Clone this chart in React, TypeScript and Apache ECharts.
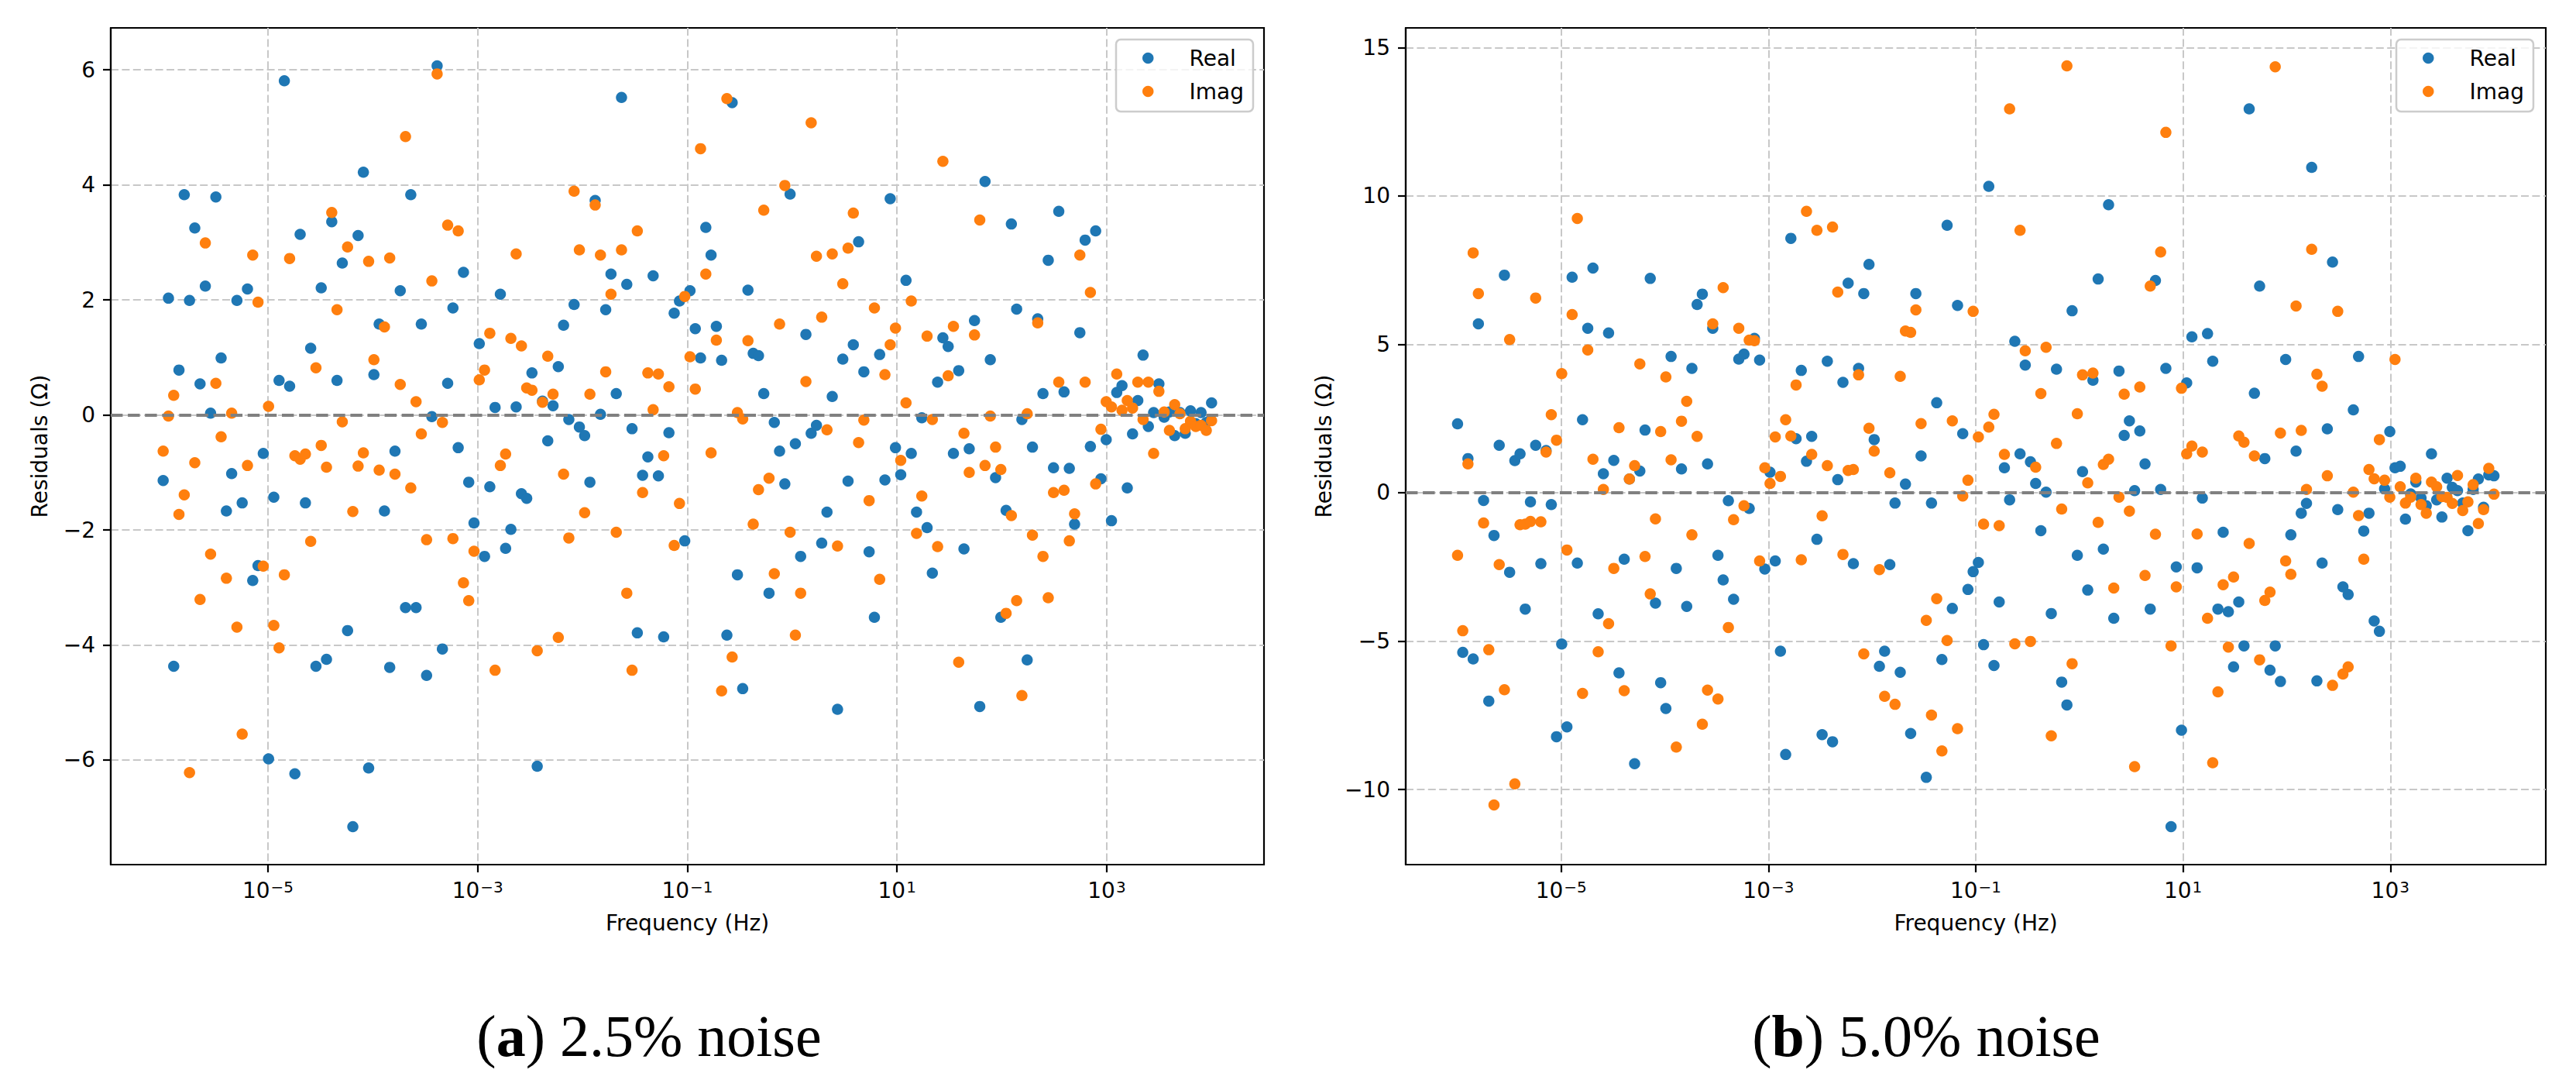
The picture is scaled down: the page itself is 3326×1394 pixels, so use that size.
import React, { useEffect, useRef } from "react";
import * as echarts from "echarts";

// log10 of the frequency grid (200 points, 1e-6 .. 1e4 Hz, log spaced)
const logFrequency = Array.from({ length: 200 }, (_, i) => -6 + (10 * i) / 199);

const xTickExps = [-5, -3, -1, 1, 3];
const yTicksA = [-6, -4, -2, 0, 2, 4, 6];
const yTicksB = [-10, -5, 0, 5, 10, 15];

// (a) 2.5% noise
const realA = [
  -1.14, 2.03, -4.37, 0.78, 3.83, 1.99, 3.25, 0.54, 2.24, 0.03,
  3.79, 0.99, -1.67, -1.02, 1.99, -1.53, 2.19, -2.88, -2.62, -0.67,
  -5.98, -1.43, 0.6, 5.81, 0.5, -6.24, 3.14, -1.53, 1.16, -4.37,
  2.21, -4.25, 3.36, 0.6, 2.64, -3.75, -7.16, 3.12, 4.22, -6.14,
  0.7, 1.58, -1.67, -4.39, -0.63, 2.16, -3.35, 3.83, -3.35, 1.58,
  -4.53, -0.03, 6.07, -4.07, 0.55, 1.86, -0.57, 2.48, -1.17, -1.88,
  1.24, -2.46, -1.25, 0.13, 2.1, -2.32, -1.99, 0.14, -1.37, -1.45,
  0.73, -6.11, 0.24, -0.45, 0.16, 0.84, 1.56, -0.08, 1.92, -0.21,
  -0.36, -1.17, 3.73, 0.01, 1.83, 2.45, 0.37, 5.52, 2.27, -0.24,
  -3.79, -1.05, -0.73, 2.42, -1.06, -3.86, -0.31, 1.77, 1.98, -2.19,
  2.16, 1.5, 0.99, 3.26, 2.78, 1.54, 0.95, -3.83, 5.43, -2.78,
  -4.76, 2.17, 1.07, 1.03, 0.37, -3.1, -0.13, -0.63, -1.2, 3.84,
  -0.5, -2.46, 1.4, -0.32, -0.18, -2.23, -1.69, 0.32, -5.12, 0.97,
  -1.15, 1.22, 3.01, 0.75, -2.38, -3.52, 1.05, -1.13, 3.76, -0.57,
  -1.04, 2.34, -0.67, -1.69, -0.05, -1.96, -2.75, 0.57, 1.34, 1.19,
  -0.67, 0.77, -2.33, -0.59, 1.64, -5.07, 4.06, 0.96, -1.09, -3.52,
  -1.66, 3.32, 1.84, -0.08, -4.26, -0.56, 1.67, 0.37, 2.69, -0.92,
  3.54, 0.4, -0.93, -1.9, 1.43, 3.04, -0.55, 3.2, -1.11, -0.43,
  -1.84, 0.39, 0.51, -1.27, -0.33, 0.25, 1.04, -0.2, 0.04, 0.54,
  -0.04, 0.05, -0.36, 0.04, -0.32, 0.07, -0.15, 0.04, -0.13, 0.21,
];
const imagA = [
  -0.63, -0.02, 0.34, -1.73, -1.39, -6.22, -0.83, -3.21, 2.99, -2.42,
  0.55, -0.38, -2.84, 0.03, -3.69, -5.55, -0.88, 2.78, 1.96, -2.63,
  0.15, -3.66, -4.05, -2.78, 2.72, -0.71, -0.77, -0.68, -2.2, 0.82,
  -0.53, -0.91, 3.52, 1.83, -0.12, 2.92, -1.68, -0.89, -0.66, 2.67,
  0.96, -0.96, 1.53, 2.73, -1.03, 0.53, 4.84, -1.27, 0.23, -0.33,
  -2.17, 2.33, 5.93, -0.13, 3.3, -2.15, 3.2, -2.92, -3.23, -2.37,
  0.61, 0.78, 1.42, -4.44, -0.88, -0.68, 1.33, 2.8, 1.2, 0.47,
  0.43, -4.1, 0.22, 1.02, 0.36, -3.87, -1.03, -2.14, 3.89, 2.87,
  -1.7, 0.36, 3.65, 2.78, 0.75, 2.1, -2.04, 2.87, -3.1, -4.44,
  3.2, -1.35, 0.73, 0.09, 0.71, -0.71, 0.49, -2.27, -1.54, 2.06,
  1.01, 0.45, 4.63, 2.45, -0.66, 1.3, -4.8, 5.5, -4.21, 0.04,
  -0.07, 1.29, -1.9, -1.3, 3.56, -1.1, -2.76, 1.58, 3.99, -2.04,
  -3.83, -3.1, 0.58, 5.08, 2.76, 1.7, -0.26, 2.8, -2.28, 2.28,
  2.9, 3.51, -0.48, -0.09, -1.49, 1.86, -2.86, 0.7, 1.22, 1.51,
  -0.79, 0.21, 1.98, -2.06, -1.41, 1.37, -0.08, -2.29, 4.41, 0.68,
  1.54, -4.3, -0.32, -1.0, 1.39, 3.39, -0.88, -0.02, -0.56, -0.95,
  -3.45, -1.75, -3.23, -4.88, 0.02, -2.09, 1.6, -2.46, -3.18, -1.35,
  0.57, -1.31, -2.19, -1.72, 2.78, 0.57, 2.13, -1.2, -0.25, 0.23,
  0.14, 0.71, 0.08, 0.25, 0.12, 0.57, -0.08, 0.57, -0.67, 0.41,
  0.05, -0.27, 0.18, 0.02, -0.24, -0.11, -0.2, -0.18, -0.27, -0.1,
];

// (b) 5.0% noise
const realB = [
  2.32, -5.38, 1.15, -5.6, 5.69, -0.26, -7.02, -1.44, 1.6, 7.33,
  -2.68, 1.08, 1.31, -3.92, -0.31, 1.6, -2.39, 1.42, -0.4, -8.22,
  -5.1, -7.89, 7.26, -2.37, 2.46, 5.54, 7.57, -4.08, 0.64, 5.38,
  1.09, -6.07, -2.24, 0.46, -9.13, 0.73, 2.11, 7.22, -3.72, -6.4,
  -7.27, 4.59, -2.55, 0.8, -3.83, 4.19, 6.34, 6.69, 0.97, 5.54,
  -2.11, -2.94, -0.27, -3.59, 4.5, 4.67, -0.53, 5.2, 4.47, -2.57,
  0.69, -2.3, -5.34, -8.82, 8.57, 1.82, 4.12, 1.06, 1.9, -1.57,
  -8.15, 4.43, -8.39, 0.44, 3.72, 7.06, -2.39, 4.19, 6.71, 7.69,
  1.79, -5.85, -5.34, -2.42, -0.35, -6.05, 0.29, -8.11, 6.71, 1.24,
  -9.59, -0.35, 3.03, -5.62, 9.01, -3.9, 6.31, 1.99, -3.26, -2.66,
  -2.35, -5.12, 10.32, -5.82, -3.68, 0.84, -0.24, 5.1, 1.31, 4.3,
  1.04, 0.31, -1.28, 0.02, -4.07, 4.16, -6.38, -7.15, 6.13, -2.11,
  0.71, -3.28, 3.79, 7.2, -1.9, 9.7, -4.23, 4.1, 1.93, 2.42,
  0.07, 2.08, 0.97, -3.92, 7.15, 0.11, 4.19, -11.25, -2.5, -8.0,
  3.7, 5.25, -2.53, -0.18, 5.36, 4.43, -3.92, -1.33, -4.01, -5.87,
  -3.68, -5.16, 12.93, 3.35, 6.96, 1.15, -5.98, -5.16, -6.36, 4.49,
  -1.42, 1.4, -0.69, -0.36, 10.96, -6.34, -2.37, 2.15, 7.77, -0.57,
  -3.17, -3.43, 2.79, 4.59, -1.29, -0.69, -4.32, -4.67, 0.13, 2.06,
  0.84, 0.89, -0.89, -0.04, 0.36, -0.18, -0.44, 1.31, -0.24, -0.82,
  0.49, 0.18, 0.07, -0.35, -1.28, 0.11, 0.46, -0.49, 0.6, 0.57,
];
const imagB = [
  -2.11, -4.65, 0.97, 8.08, 6.71, -1.02, -5.29, -10.52, -2.42, -6.64,
  5.16, -9.81, -1.08, -1.06, -0.97, 6.56, -0.98, 1.37, 2.63, 1.77,
  4.01, -1.93, 6.0, 9.24, -6.76, 4.81, 1.13, -5.36, 0.11, -4.41,
  -2.55, 2.19, -6.67, 0.46, 0.91, 4.34, -2.15, -3.41, -0.88, 2.06,
  3.9, 1.11, -8.57, 2.41, 3.08, -1.42, 1.9, -7.8, -6.65, 5.69,
  -6.95, 6.91, -4.54, -0.91, 5.54, -0.44, 5.14, 5.12, -2.3, 0.84,
  0.31, 1.88, 0.55, 2.46, 1.91, 3.63, -2.26, 9.48, 1.29, 8.84,
  -0.78, 0.91, 8.95, 6.76, -2.08, 0.75, 0.78, 3.97, -5.43, 2.17,
  1.4, -2.59, -6.86, 0.67, -7.13, 3.92, 5.45, 5.4, 6.16, 2.33,
  -4.3, -7.49, -3.57, -8.7, -4.98, 2.42, -7.95, -0.11, 0.42, 6.11,
  1.88, -1.06, 2.21, 2.64, -1.11, 1.29, 12.93, -5.09, 8.84, 4.78,
  -5.01, 0.86, 3.34, 4.9, -8.19, 1.66, -0.55, 14.38, -5.76, 2.66,
  3.97, 0.33, 4.03, -1.0, 0.95, 1.13, -3.21, -0.15, 3.32, -0.62,
  -9.23, 3.56, -2.79, 6.96, -1.4, 8.11, 12.14, -5.16, -3.17, 3.52,
  1.31, 1.57, -1.39, 1.37, -4.23, -9.1, -6.71, -3.1, -5.2, -2.84,
  1.91, 1.7, -1.71, 1.24, -5.63, -3.63, -3.35, 14.35, 2.01, -2.3,
  -2.75, 6.29, 2.1, 0.11, 8.2, 3.99, 3.59, 0.57, -6.49, 6.11,
  -6.11, -5.87, 0.02, -0.77, -2.24, 0.78, 0.47, 1.79, 0.42, -0.15,
  4.49, 0.2, -0.35, -0.15, 0.49, -0.4, -0.69, 0.36, 0.2, -0.13,
  -0.16, -0.36, 0.58, -0.6, -0.31, 0.27, -1.04, -0.57, 0.82, -0.05,
];

const FONT = "DejaVu Sans";
const SERIF = "Liberation Serif";
const BLUE = "#1f77b4";
const ORANGE = "#ff7f0e";
const GRID_LINE = { color: "#c8c8c8", width: 2, type: [10, 4.4] };
const SPINE = { color: "#000", width: 2.2 };

const minus = (v: number) => (v < 0 ? "\u2212" + Math.abs(v) : String(v));

const makeXAxis = (gridIndex: number) => ({
  type: "value",
  gridIndex,
  min: -6.5,
  max: 4.5,
  name: "Frequency (Hz)",
  nameLocation: "middle",
  nameGap: 61,
  nameTextStyle: { fontFamily: FONT, fontSize: 28, color: "#000" },
  axisLine: { show: true, onZero: false, lineStyle: SPINE },
  axisTick: { show: true, length: 10, customValues: xTickExps, lineStyle: SPINE },
  axisLabel: {
    customValues: xTickExps,
    margin: 19,
    color: "#000",
    formatter: (v: number) => `{base|10}{sup|${minus(v)}}`,
    rich: {
      base: { fontFamily: FONT, fontSize: 28, color: "#000", verticalAlign: "bottom" },
      sup: {
        fontFamily: FONT,
        fontSize: 20,
        lineHeight: 20,
        color: "#000",
        verticalAlign: "top",
        padding: [0, 0, 12.5, 1],
      },
    },
  },
  splitLine: { show: true, lineStyle: GRID_LINE },
});

const makeYAxis = (gridIndex: number, min: number, max: number, ticks: number[], nameGap: number) => ({
  type: "value",
  gridIndex,
  min,
  max,
  name: "Residuals (\u03A9)",
  nameLocation: "middle",
  nameGap,
  nameTextStyle: { fontFamily: FONT, fontSize: 28, color: "#000" },
  axisLine: { show: true, onZero: false, lineStyle: SPINE },
  axisTick: { show: true, length: 10, customValues: ticks, lineStyle: SPINE },
  axisLabel: {
    customValues: ticks,
    margin: 20,
    fontFamily: FONT,
    fontSize: 28,
    color: "#000",
    formatter: (v: number) => minus(v),
  },
  splitLine: { show: true, lineStyle: GRID_LINE },
});

// legend box as in matplotlib: marker at handle centre, label after handletextpad
const makeLegend = (left: number) => ({
  left,
  top: 51,
  orient: "vertical",
  align: "left",
  data: ["Real", "Imag"],
  icon: "circle",
  itemWidth: 14.5,
  itemHeight: 14.5,
  itemGap: 15,
  padding: [10, 12, 12, 34],
  backgroundColor: "rgba(255,255,255,0.8)",
  borderColor: "#cccccc",
  borderWidth: 2.5,
  borderRadius: 6,
  selectedMode: false,
  formatter: (name: string) => `{pad| }{txt|${name}}`,
  textStyle: {
    fontFamily: FONT,
    fontSize: 28,
    color: "#000",
    align: "left",
    rich: {
      pad: { width: 41, fontSize: 28, fontFamily: FONT, align: "left" },
      txt: { width: 72, fontFamily: FONT, fontSize: 28, color: "#000", align: "left" },
    },
  },
});

const scatter = (name: string, values: number[], index: number, color: string) => ({
  type: "scatter",
  name,
  xAxisIndex: index,
  yAxisIndex: index,
  data: values.map((v, i) => [logFrequency[i], v]),
  symbolSize: 14.5,
  itemStyle: { color, opacity: 1 },
  silent: true,
});

const zeroLine = {
  silent: true,
  symbol: ["none", "none"],
  label: { show: false },
  lineStyle: { color: "#808080", width: 4, type: [15.4, 6.7] },
  data: [{ yAxis: 0 }],
};

const caption = (x: number, letter: string, rest: string) => ({
  type: "text",
  x,
  y: 1337,
  style: {
    text: `({b|${letter}}) ${rest}`,
    fontFamily: SERIF,
    fontSize: 76,
    fill: "#000",
    align: "center",
    verticalAlign: "middle",
    rich: {
      b: { fontFamily: SERIF, fontSize: 76, fontWeight: "bold", fill: "#000" },
    },
  },
});

const App: React.FC = () => {
  const chartRef = useRef<HTMLDivElement>(null);

  useEffect(() => {
    if (!chartRef.current) return;
    const chart = echarts.init(chartRef.current, null, { renderer: "svg" });

    const option = {
      animation: false,
      backgroundColor: "#fff",
      textStyle: { fontFamily: FONT },
      grid: [
        { left: 143, top: 36, width: 1489, height: 1080, show: true, borderColor: "#000", borderWidth: 2.2 },
        { left: 1815, top: 36, width: 1472, height: 1080, show: true, borderColor: "#000", borderWidth: 2.2 },
      ],
      xAxis: [makeXAxis(0), makeXAxis(1)],
      yAxis: [makeYAxis(0, -7.82, 6.73, yTicksA, 78), makeYAxis(1, -12.53, 15.66, yTicksB, 92)],
      legend: [makeLegend(1441), makeLegend(3094)],
      series: [
        scatter("Real", realA, 0, BLUE),
        { ...scatter("Imag", imagA, 0, ORANGE), markLine: zeroLine },
        scatter("Real", realB, 1, BLUE),
        { ...scatter("Imag", imagB, 1, ORANGE), markLine: zeroLine },
      ],
      graphic: [caption(838, "a", "2.5% noise"), caption(2487, "b", "5.0% noise")],
    };

    chart.setOption(option);
    return () => {
      chart.dispose();
    };
  }, []);

  return (
    <div
      ref={chartRef}
      style={{ position: "absolute", left: 0, top: 0, width: 3326, height: 1394 }}
    />
  );
};

export default App;
